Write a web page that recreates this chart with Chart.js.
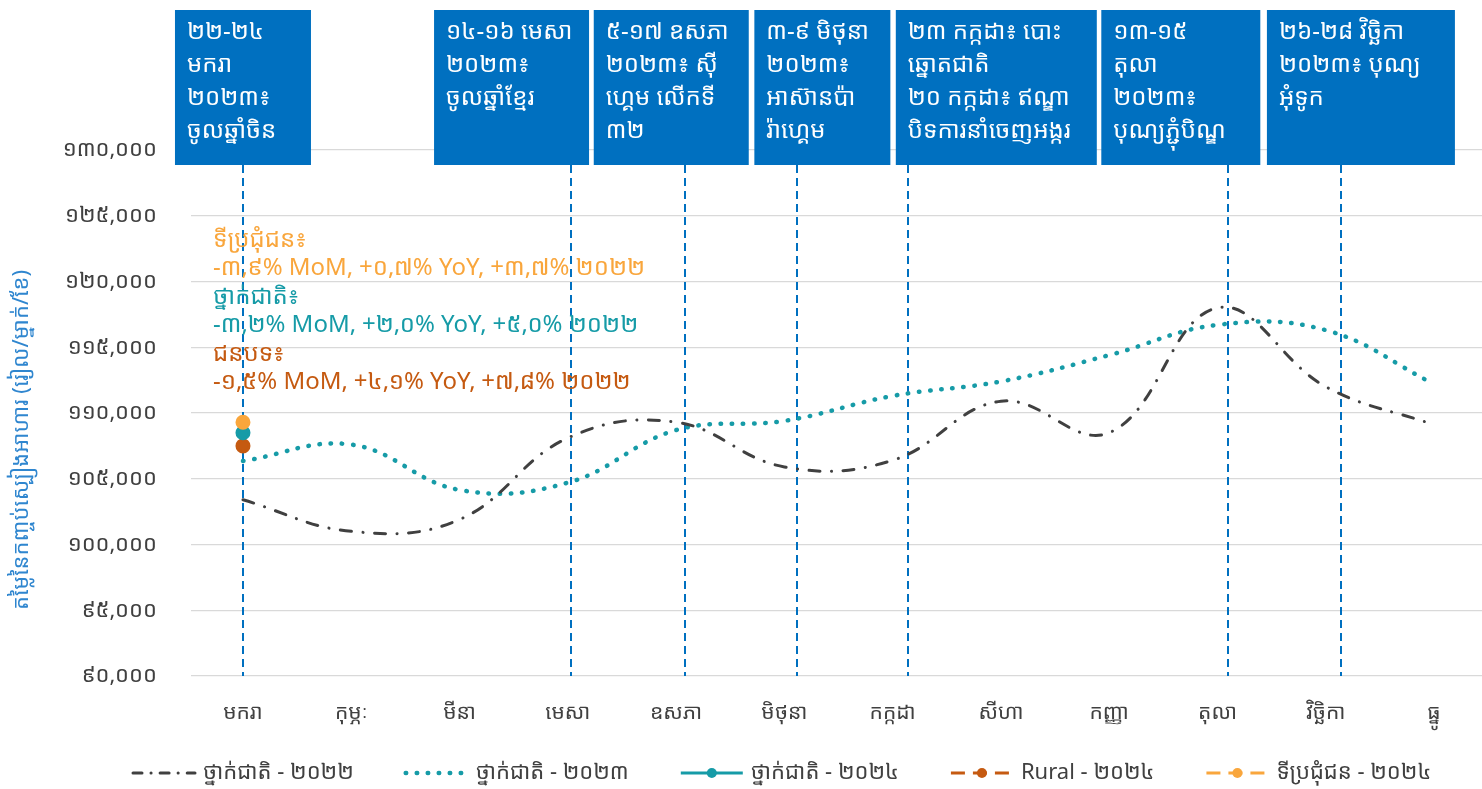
<!DOCTYPE html>
<html>
<head>
<meta charset="utf-8">
<script src="https://cdn.jsdelivr.net/npm/chart.js@4.4.1/dist/chart.umd.min.js"></script>
<style>
  html, body { margin: 0; padding: 0; background: #fff; }
  #wrap { width: 1482px; height: 789px; position: relative; }
</style>
</head>
<body>
<div id="wrap"><canvas id="foodChart" width="1482" height="789"></canvas></div>
<script>
// --- DATA ---
const months = ['មករា', 'កុម្ភៈ', 'មីនា', 'មេសា', 'ឧសភា', 'មិថុនា', 'កក្កដា', 'សីហា', 'កញ្ញា', 'តុលា', 'វិច្ឆិកា', 'ធ្នូ'];
const national2022 = [103400, 101000, 101900, 108100, 109300, 105900, 106400, 110900, 108500, 118000, 112000, 109100];
const national2023 = [106350, 107600, 104150, 104700, 108700, 109400, 111300, 112400, 114400, 116700, 116300, 112200];
const national2024 = [108500];
const rural2024 = [107500];
const urban2024 = [109300];
const yMin = 90000, yMax = 130000, yStep = 5000;

// event markers (month index, slightly after the month point)
const eventPos = [0, 3.03, 4.08, 5.12, 6.14, 9.1, 10.14];
const eventText = [
  ['២២-២៤', 'មករា', '២០២៣៖', 'ចូលឆ្នាំចិន'],
  ['១៤-១៦ មេសា', '២០២៣៖', 'ចូលឆ្នាំខ្មែរ'],
  ['៥-១៧ ឧសភា', '២០២៣៖ ស៊ី', 'ហ្គេម លើកទី', '៣២'],
  ['៣-៩ មិថុនា', '២០២៣៖', 'អាស៊ានប៉ា', 'រ៉ាហ្គេម'],
  ['២៣ កក្កដា៖ បោះ', 'ឆ្នោតជាតិ', '២០ កក្កដា៖ ឥណ្ឌា', 'បិទការនាំចេញអង្ករ'],
  ['១៣-១៥', 'តុលា', '២០២៣៖', 'បុណ្យភ្ជុំបិណ្ឌ'],
  ['២៦-២៨ វិច្ឆិកា', '២០២៣៖ បុណ្យ', 'អុំទូក']
];
const noteLines = [
  'ទីប្រជុំជន៖', '-៣,៩% MoM, +០,៧% YoY, +៣,៧% ២០២២',
  'ថ្នាក់ជាតិ៖', '-៣,២% MoM, +២,០% YoY, +៥,០% ២០២២',
  'ជនបទ៖', '-១,៥% MoM, +៤,១% YoY, +៧,៨% ២០២២'
];
const yTitle = 'តម្លៃនៃកញ្ចប់ស្បៀងអាហារ (រៀល/ម្នាក់/ខែ)';

// --- LAYOUT / STYLE ---
const FONT = "'Noto Sans Khmer', 'Khmer OS', 'Liberation Sans', Arial, sans-serif";
const NARROW = "'Liberation Sans Narrow', 'Noto Sans Khmer', 'Liberation Sans', Arial, sans-serif";
const BLUE = '#0070C0';
const TEAL = '#169BA7';
const BROWN = '#C55A11';
const ORANGE = '#F9A63C';
const DARK = '#404040';
// box extents relative to the event line [left, right]
const boxOffsets = [[-68, 68], [-137, 18], [-91, 64], [-43, 93], [-12, 189], [-127, 32], [-74, 114]];
const noteColors = [ORANGE, ORANGE, TEAL, TEAL, BROWN, BROWN];

const khmerDigits = '០១២៣៤៥៦៧៨៩';
const toKhmer = s => String(s).replace(/[0-9]/g, d => khmerDigits[d]);
const pts = arr => arr.map((v, i) => ({ x: i, y: v }));

const series = [
  { label: 'ថ្នាក់ជាតិ - ២០២២', data: pts(national2022), borderColor: DARK, backgroundColor: DARK, borderWidth: 3, borderDash: [11, 11.5, 0.1, 11.5], borderCapStyle: 'round', pointRadius: 0, order: 3, sample: 'dashdot' },
  { label: 'ថ្នាក់ជាតិ - ២០២៣', data: pts(national2023), borderColor: TEAL, backgroundColor: TEAL, borderWidth: 4.5, borderDash: [0.5, 10.7], borderCapStyle: 'round', pointRadius: 0, order: 3, sample: 'dots' },
  { label: 'ថ្នាក់ជាតិ - ២០២៤', data: pts(national2024), borderColor: TEAL, backgroundColor: TEAL, borderWidth: 3, pointRadius: 6, order: 1, sample: 'solid' },
  { label: 'Rural - ២០២៤', data: pts(rural2024), borderColor: BROWN, backgroundColor: BROWN, borderWidth: 3, pointRadius: 6, order: 2, sample: 'dashed' },
  { label: 'ទីប្រជុំជន - ២០២៤', data: pts(urban2024), borderColor: ORANGE, backgroundColor: ORANGE, borderWidth: 3, pointRadius: 6, order: 0, sample: 'dashed' }
];

const decorPlugin = {
  id: 'decor',
  beforeDatasetsDraw(chart) {
    const { ctx, chartArea, scales: { x } } = chart;
    ctx.save();
    ctx.strokeStyle = BLUE;
    ctx.lineWidth = 2;
    ctx.setLineDash([8, 5]);
    eventPos.forEach(p => {
      const px = Math.round(x.getPixelForValue(p));
      ctx.beginPath();
      ctx.moveTo(px, 165);
      ctx.lineTo(px, chartArea.bottom);
      ctx.stroke();
    });
    ctx.restore();
  },
  afterDraw(chart) {
    const { ctx, chartArea, scales: { x } } = chart;
    ctx.save();
    // event boxes
    eventPos.forEach((p, i) => {
      const px = x.getPixelForValue(p);
      const l = px + boxOffsets[i][0], r = px + boxOffsets[i][1];
      ctx.fillStyle = BLUE;
      ctx.fillRect(l, 10, r - l, 155);
      ctx.fillStyle = '#fff';
      ctx.font = '24px ' + FONT;
      ctx.textBaseline = 'middle';
      ctx.textAlign = 'left';
      eventText[i].forEach((t, j) => ctx.fillText(t, l + 12, 32 + j * 33));
    });
    // notes
    ctx.font = '24px ' + NARROW;
    noteLines.forEach((t, j) => {
      ctx.fillStyle = noteColors[j];
      ctx.fillText(t, chartArea.left + 22, 240 + j * 28.5);
    });
    // y title
    ctx.translate(22, 440);
    ctx.rotate(-Math.PI / 2);
    ctx.textAlign = 'center';
    ctx.fillStyle = '#2F86CF';
    ctx.font = '22px ' + FONT;
    ctx.fillText(yTitle, 0, 0);
    ctx.restore();

    // legend
    ctx.save();
    ctx.font = '22px ' + FONT;
    ctx.textBaseline = 'middle';
    let lx = 131;
    const ly = 773;
    chart.data.datasets.forEach(ds => {
      ctx.strokeStyle = ds.borderColor;
      ctx.fillStyle = ds.borderColor;
      ctx.lineCap = 'butt';
      if (ds.sample === 'dashdot') { ctx.lineWidth = 3; ctx.lineCap = 'round'; ctx.setLineDash([9, 9, 0.1, 9]); }
      else if (ds.sample === 'dots') { ctx.lineWidth = 4.5; ctx.lineCap = 'round'; ctx.setLineDash([0.5, 10.5]); }
      else if (ds.sample === 'solid') { ctx.lineWidth = 3; ctx.setLineDash([]); }
      else { ctx.lineWidth = 3; ctx.setLineDash([14, 8]); }
      ctx.beginPath();
      ctx.moveTo(lx + 2, ly);
      ctx.lineTo(lx + 64, ly);
      ctx.stroke();
      ctx.setLineDash([]);
      if (ds.pointRadius > 0) {
        ctx.beginPath();
        ctx.arc(lx + 33, ly, 5, 0, Math.PI * 2);
        ctx.fill();
      }
      ctx.fillStyle = DARK;
      ctx.fillText(ds.label, lx + 72, ly);
      lx += 72 + ctx.measureText(ds.label).width + 50;
    });
    ctx.restore();
  }
};

new Chart(document.getElementById('foodChart'), {
  type: 'line',
  data: { datasets: series },
  options: {
    responsive: false,
    animation: false,
    layout: { autoPadding: false, padding: { top: 150, left: 0, right: 0, bottom: 0 } },
    elements: { line: { tension: 0.4 } },
    plugins: { legend: { display: false }, tooltip: { enabled: false } },
    scales: {
      x: {
        type: 'linear',
        min: -0.48,
        max: 11.443,
        afterBuildTicks: axis => { axis.ticks = months.map((m, i) => ({ value: i })); },
        afterFit: axis => { axis.height = 113; },
        grid: { display: false },
        border: { display: false },
        ticks: {
          callback: v => months[v],
          color: DARK,
          font: { size: 21, family: FONT },
          padding: 16,
          maxRotation: 0,
          autoSkip: false
        }
      },
      y: {
        min: yMin,
        max: yMax,
        afterFit: axis => { axis.width = 191; },
        grid: { color: '#D9D9D9', lineWidth: 1.3, drawTicks: false },
        border: { display: false },
        ticks: {
          stepSize: yStep,
          callback: v => toKhmer(v.toLocaleString('en-US')),
          color: DARK,
          font: { size: 22, family: FONT },
          padding: 34
        }
      }
    }
  },
  plugins: [decorPlugin]
});
</script>
</body>
</html>
